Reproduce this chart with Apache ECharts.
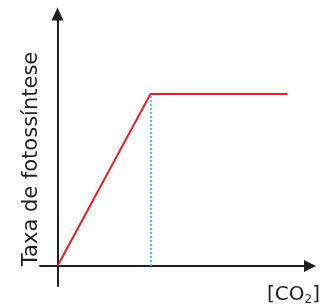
<!DOCTYPE html>
<html>
<head>
<meta charset="utf-8">
<script src="https://cdn.jsdelivr.net/npm/echarts@6/dist/echarts.min.js"></script>
<style>
  html, body { margin: 0; padding: 0; background: #fff; }
  #chart { width: 322px; height: 307px; }
</style>
</head>
<body>
<div id="chart"></div>
<script>
// curve points, arbitrary units (no ticks in the original)
const co2 = [0, 93, 230];
const rate = [0, 172, 172];
const satX = 93;   // where the curve saturates
const yLabel = 'Taxa de fotossíntese';

const axisColor = '#231f20';
const fontFam = 'DejaVu Sans, Verdana, sans-serif';

let chart = echarts.init(document.getElementById('chart'));
let option = {
    animation: false,
    grid: {left: 40, right: 12, top: 14, bottom: 21},
    xAxis: {
        type: 'value',
        min: -17.5,
        max: 252.5,
        axisLine: {
            onZero: true,
            symbol: ['none', 'triangle'],
            symbolSize: [12, 12],
            lineStyle: {color: axisColor, width: 2}
        },
        axisTick: {show: false},
        axisLabel: {show: false},
        splitLine: {show: false}
    },
    yAxis: {
        type: 'value',
        min: -20,
        max: 252,
        axisLine: {
            onZero: true,
            symbol: ['none', 'triangle'],
            symbolSize: [12, 13],
            lineStyle: {color: axisColor, width: 2}
        },
        axisTick: {show: false},
        axisLabel: {show: false},
        splitLine: {show: false}
    },
    series: [{
        type: 'line',
        data: co2.map((x, i) => [x, rate[i]]),
        symbol: 'none',
        lineStyle: {color: '#e8202a', width: 2},
        markLine: {
            silent: true,
            symbol: 'none',
            label: {show: false},
            lineStyle: {color: '#4cc6f0', type: [2, 2], width: 2},
            data: [[{coord: [satX, 0]}, {coord: [satX, rate[1]]}]]
        }
    }],
    graphic: [
        {
            type: 'text',
            x: 32, y: 159,
            rotation: Math.PI / 2,
            style: {
                text: yLabel,
                font: '21px ' + fontFam,
                fill: '#231f20',
                align: 'center',
                verticalAlign: 'middle'
            }
        },
        {
            type: 'text',
            x: 267, y: 295,
            style: {
                text: '[CO{s|2}]',
                font: '20px ' + fontFam,
                fill: '#231f20',
                align: 'left',
                verticalAlign: 'middle',
                rich: {
                    s: {fontSize: 12, fontFamily: 'DejaVu Sans', verticalAlign: 'bottom', padding: [9, 0, 0, 0]}
                }
            }
        }
    ]
};
chart.setOption(option);
</script>
</body>
</html>
